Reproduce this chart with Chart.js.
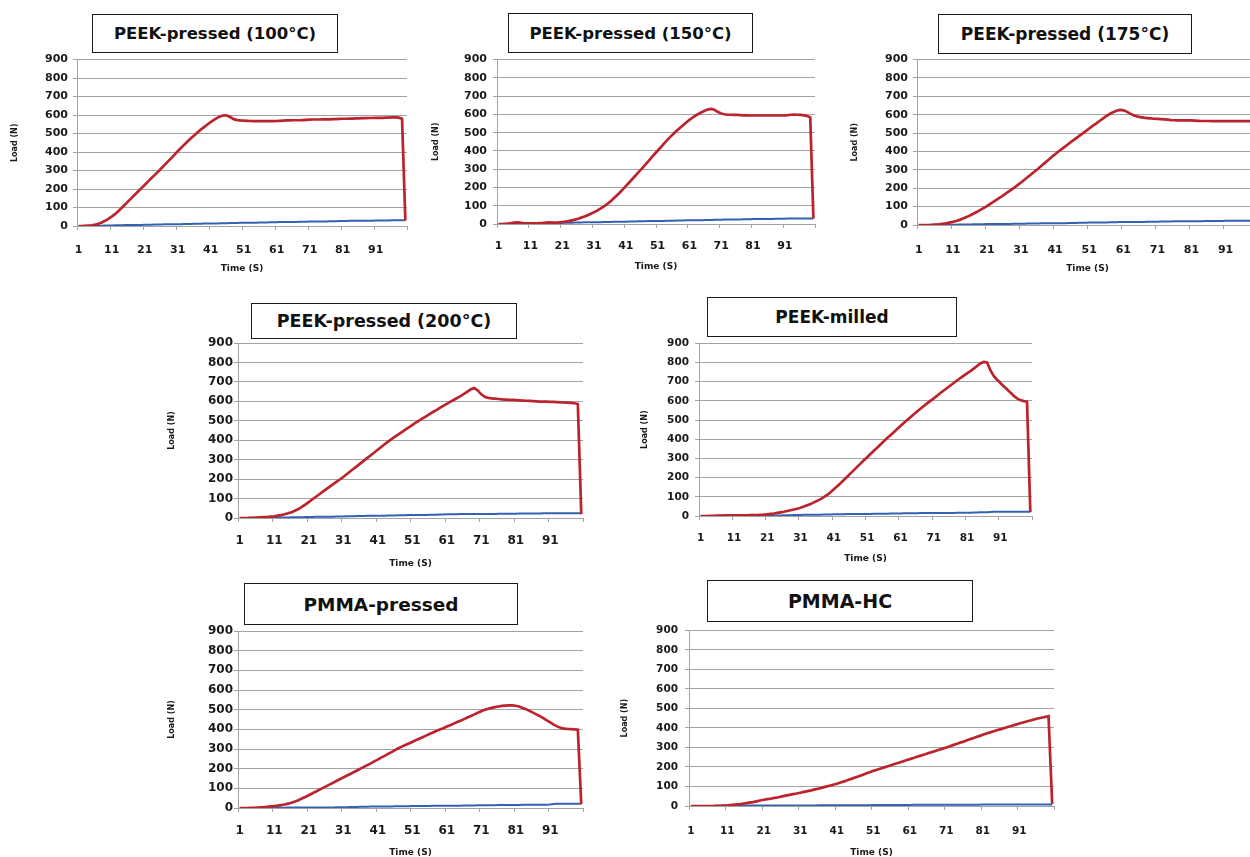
<!DOCTYPE html>
<html><head><meta charset="utf-8">
<script src="https://cdn.jsdelivr.net/npm/chart.js@4.4.1/dist/chart.umd.min.js"></script>
<style>
html,body{margin:0;padding:0;background:#fff;}
#stage{position:relative;width:1250px;height:857px;overflow:hidden;background:#fff;}
#stage canvas{position:absolute;}
.tbox{position:absolute;box-sizing:border-box;border:1.5px solid #1a1a1a;background:#fff;display:flex;align-items:center;justify-content:center;font-family:'DejaVu Sans',sans-serif;font-weight:bold;color:#111;white-space:nowrap;z-index:2;}
</style></head><body><div id="stage"></div>
<script>
// ---- data ----
const times = [1,2,3,4,5,6,7,8,9,10,11,12,13,14,15,16,17,18,19,20,21,22,23,24,25,26,27,28,29,30,31,32,33,34,35,36,37,38,39,40,41,42,43,44,45,46,47,48,49,50,51,52,53,54,55,56,57,58,59,60,61,62,63,64,65,66,67,68,69,70,71,72,73,74,75,76,77,78,79,80,81,82,83,84,85,86,87,88,89,90,91,92,93,94,95,96,97,98,99,100];
const tickLabels = [1,11,21,31,41,51,61,71,81,91];
const panelTitles = ['PEEK-pressed (100°C)','PEEK-pressed (150°C)','PEEK-pressed (175°C)','PEEK-pressed (200°C)','PEEK-milled','PMMA-pressed','PMMA-HC'];
const yTitle = 'Load (N)';
const xTitle = 'Time (S)';

const red100 = [0,0,1,2,4,7,12,19,28,39,
51,64,80,97,115,133,151,169,187,205,
222,240,258,275,293,311,329,348,366,385,
404,422,440,457,474,490,506,521,535,549,
562,574,585,594,599,597,588,578,573,571,
570,569,568,567,567,567,567,567,567,567,
568,569,570,571,571,572,572,572,573,574,
575,576,576,576,577,577,577,578,578,579,
580,580,581,581,582,582,583,583,584,584,
585,585,585,586,586,587,588,586,580,30];
const blue100 = [0,0,1,1,1,2,2,2,3,3,
3,4,4,4,5,5,5,6,6,6,
7,7,7,8,8,8,9,9,9,10,
10,10,11,11,11,12,12,12,13,13,
14,14,14,15,15,15,16,16,16,17,
17,17,18,18,18,19,19,19,20,20,
20,21,21,21,22,22,22,23,23,23,
24,24,24,25,25,25,26,26,26,27,
27,27,28,28,28,28,29,29,29,29,
30,30,30,30,30,31,31,31,31,31];

const red150 = [0,0,1,2,5,8,9,7,4,3,
3,3,4,5,6,8,9,8,8,9,
11,13,16,20,24,29,35,41,48,56,
64,73,84,95,107,121,137,153,170,188,
207,226,245,264,284,302,322,342,362,382,
401,420,440,459,477,494,510,526,541,556,
570,583,594,604,613,621,628,630,624,613,
605,601,599,598,597,597,596,595,595,594,
594,594,594,594,594,594,594,594,594,594,
595,596,598,599,598,597,595,591,584,30];
const blue150 = [0,0,0,1,1,1,2,2,2,3,
3,3,4,4,4,5,5,5,6,6,
6,7,7,7,8,8,8,9,9,9,
10,10,10,11,11,11,12,12,13,13,
13,14,14,14,15,15,15,16,16,16,
17,17,17,18,18,18,19,19,19,20,
20,20,21,21,21,22,22,22,23,23,
23,24,24,24,25,25,25,26,26,26,
27,27,27,27,28,28,28,29,29,29,
29,30,30,30,30,30,30,30,30,30];

const red175 = [0,0,0,0,1,2,3,6,9,13,
17,22,28,35,43,52,61,71,81,92,
103,115,127,139,151,164,177,190,203,217,
231,246,261,276,291,306,322,338,354,370,
385,400,414,428,442,456,470,484,497,511,
525,539,552,566,579,592,604,614,622,626,
624,617,606,597,591,587,584,582,580,578,
577,576,575,573,571,570,569,569,569,569,
569,568,567,566,566,566,565,565,565,565,
565,565,565,565,565,565,565,565,565,20];
const blue175 = [0,0,0,0,1,1,1,1,2,2,
2,2,3,3,3,3,4,4,4,4,
5,5,5,5,6,6,6,6,7,7,
7,7,8,8,8,8,9,9,9,9,
10,10,10,10,11,11,11,12,12,12,
13,13,13,14,14,14,15,15,15,16,
16,16,16,17,17,17,17,18,18,18,
18,19,19,19,19,20,20,20,20,21,
21,21,21,21,22,22,22,22,22,22,
23,23,23,23,23,23,23,23,23,23];

const red200 = [0,0,0,1,1,2,3,4,5,7,
9,12,15,19,24,30,37,46,57,69,
82,95,108,121,134,147,160,173,186,198,
211,225,239,253,267,281,295,309,323,337,
351,365,379,393,406,418,430,442,454,466,
478,490,501,512,523,534,545,555,566,577,
587,597,607,617,627,638,650,662,668,656,
636,624,618,615,614,612,610,609,608,607,
606,605,604,603,602,601,600,599,599,598,
597,597,596,595,594,593,592,590,586,20];
const blue200 = [0,0,0,1,1,1,1,2,2,2,
2,3,3,3,3,4,4,4,4,5,
5,5,6,6,6,7,7,7,8,8,
8,9,9,9,10,10,10,11,11,11,
12,12,12,13,13,13,14,14,14,15,
15,15,16,16,16,17,17,17,18,18,
19,19,19,19,20,20,20,20,20,21,
21,21,21,21,21,22,22,22,22,22,
22,23,23,23,23,23,23,23,24,24,
24,24,24,24,24,24,24,24,24,24];

const redMilled = [0,0,0,1,1,2,2,2,3,3,
3,3,4,4,4,5,5,5,6,7,
9,11,13,16,19,22,26,30,34,38,
43,49,56,63,71,79,88,98,110,124,
139,155,171,188,205,222,239,256,273,290,
306,323,340,356,373,390,406,421,437,453,
469,485,500,515,530,545,559,573,587,600,
613,627,641,654,667,680,693,706,719,731,
743,755,768,782,795,803,800,760,730,710,
693,676,660,643,627,613,604,599,596,20];
const blueMilled = [0,0,0,0,0,1,1,1,1,1,
1,1,2,2,2,2,2,2,3,3,
3,3,3,3,3,4,4,4,5,5,
5,6,6,6,7,7,7,8,8,8,
9,9,9,9,10,10,10,10,11,11,
11,11,12,12,12,12,12,13,13,13,
13,14,14,14,14,14,15,15,15,15,
15,16,16,16,16,16,16,17,17,17,
17,17,18,18,19,19,20,21,22,22,
22,22,22,22,22,22,22,22,22,22];

const redPmmaPressed = [0,0,0,1,1,2,3,4,6,8,
10,12,15,18,22,27,33,40,48,56,
65,74,83,92,101,110,119,128,137,146,
155,164,173,182,191,200,209,218,227,237,
246,256,265,275,284,294,304,312,320,328,
336,344,352,360,368,376,384,392,399,406,
414,421,429,437,444,452,460,468,476,484,
492,499,505,509,513,516,519,521,522,522,
520,516,509,502,494,485,476,467,457,446,
435,424,415,408,404,402,401,400,398,20];
const bluePmmaPressed = [0,0,0,0,0,0,1,1,1,1,
1,1,1,1,2,2,2,2,2,2,
2,2,2,2,3,3,3,3,4,4,
4,4,5,5,5,6,6,6,7,7,
8,8,8,8,8,9,9,9,9,9,
10,10,10,10,10,10,11,11,11,11,
11,11,11,11,12,13,13,13,13,14,
14,14,14,14,14,15,15,15,15,15,
15,15,16,16,16,16,16,16,17,17,
18,20,22,22,22,22,22,22,22,22];

const redPmmaHC = [0,0,0,0,0,0,0,1,1,2,
3,5,7,9,11,14,17,20,24,28,
32,35,38,42,45,49,53,57,61,64,
68,72,76,80,85,89,94,99,104,109,
114,120,126,133,139,146,152,159,166,173,
180,186,192,198,204,210,216,222,228,234,
240,246,252,258,264,270,276,282,288,294,
300,306,313,319,326,332,339,345,352,358,
365,371,377,383,389,394,400,406,411,417,
423,428,433,438,443,448,452,456,460,10];
const bluePmmaHC = [0,0,0,0,0,0,0,1,1,1,
1,1,1,2,2,2,2,2,2,2,
2,2,3,3,3,3,3,3,3,3,
3,3,3,3,3,4,4,4,4,4,
4,4,4,4,4,4,4,4,4,4,
5,5,5,5,5,5,5,5,5,5,
5,6,6,6,6,6,6,7,7,7,
7,7,7,7,7,7,7,7,7,7,
8,8,8,8,8,8,8,8,8,8,
8,8,8,8,8,8,8,8,8,8];

const redSeries = [red100, red150, red175, red200, redMilled, redPmmaPressed, redPmmaHC];
const blueSeries = [blue100, blue150, blue175, blue200, blueMilled, bluePmmaPressed, bluePmmaHC];

// ---- layout (pixel geometry of each panel) ----
const layouts = [
 {L:77, T:58, B:226,R:407, loadX:15, timeY:267,labY:247,yGap:9, tf:11,  box:[92,14,246,39], bf:16.5},
 {L:497,T:57, B:224,R:815, loadX:436,timeY:265,labY:243,yGap:10,tf:11,  box:[508,13,245,40],bf:16.5},
 {L:917,T:58, B:225,R:1258,loadX:855,timeY:267,labY:247,yGap:9, tf:11,  box:[938,14,254,40],bf:17},
 {L:238,T:343,B:518,R:583, loadX:172,timeY:562,labY:538,yGap:5, tf:12,  box:[251,303,266,36],bf:17.5},
 {L:699,T:341,B:516,R:1032,loadX:645,timeY:557,labY:535,yGap:10,tf:10.5,box:[707,297,250,40],bf:17},
 {L:238,T:631,B:808,R:583, loadX:172,timeY:851,labY:828,yGap:5, tf:12,  box:[244,583,274,42],bf:18.5},
 {L:689,T:627,B:806,R:1054,loadX:625,timeY:851,labY:828,yGap:11,tf:10.5,box:[707,580,266,42],bf:19}
];

const RED = '#bb242c', BLUE = '#3462b2', GRID = '#a3a3a3', TXT = '#1a1a1a', NONE = 'rgba(0,0,0,0)';
const Y_TITLE_FS = 8, X_TITLE_FS = 9, PAD_TOP = 10, TICK = 4;

Chart.defaults.font.family = "'DejaVu Sans', sans-serif";
Chart.defaults.font.weight = 'bold';
Chart.defaults.color = TXT;

const stage = document.getElementById('stage');

layouts.forEach((g, i) => {
  const left = Math.round(g.loadX - Y_TITLE_FS * 0.6);
  const top = g.T - PAD_TOP;
  const yW = g.L - left;
  const xH = Math.round(g.timeY + X_TITLE_FS * 0.6 - g.B) + 2;
  const w = g.R - left + 2;
  const h = g.B - top + xH;
  const cv = document.createElement('canvas');
  cv.width = w; cv.height = h;
  cv.style.left = left + 'px'; cv.style.top = top + 'px';
  cv.style.width = w + 'px'; cv.style.height = h + 'px';
  stage.appendChild(cv);

  const box = document.createElement('div');
  box.className = 'tbox';
  box.style.left = g.box[0] + 'px'; box.style.top = g.box[1] + 'px';
  box.style.width = g.box[2] + 'px'; box.style.height = g.box[3] + 'px';
  box.style.fontSize = g.bf + 'px';
  box.textContent = panelTitles[i];
  stage.appendChild(box);

  new Chart(cv, {
    type: 'line',
    data: {
      labels: times,
      datasets: [
        {data: redSeries[i], borderColor: RED, borderWidth: 2.7, pointRadius: 0, tension: 0, order: 1},
        {data: blueSeries[i], borderColor: BLUE, borderWidth: 2, pointRadius: 0, tension: 0, order: 2}
      ]
    },
    options: {
      responsive: false, animation: false, devicePixelRatio: 1,
      layout: {padding: {top: PAD_TOP, right: 2, left: 0, bottom: 0}},
      plugins: {legend: {display: false}, tooltip: {enabled: false}},
      scales: {
        x: {
          type: 'category', offset: true,
          grid: {
            display: true, drawOnChartArea: false, drawTicks: true, tickLength: TICK, offset: true,
            color: GRID, tickWidth: 1,
            tickColor: function(c) { return (c.type !== 'tick' || c.index % 10 === 0) ? GRID : NONE; }
          },
          border: {display: true, color: GRID, width: 1},
          ticks: {
            autoSkip: false, maxRotation: 0, minRotation: 0,
            padding: g.labY - g.B - TICK - g.tf * 0.6 + 3,
            font: {size: g.tf, weight: 'bold'}, color: TXT,
            callback: function(v, idx) { const t = times[idx]; return tickLabels.includes(t) ? String(t) : ''; }
          },
          title: {display: true, text: xTitle, font: {size: X_TITLE_FS, weight: 'bold'}, color: TXT, padding: {top: 0, bottom: 0}},
          afterFit: function(s) { s.height = xH; s.paddingLeft = 0; s.paddingRight = 0; }
        },
        y: {
          min: 0, max: 900,
          grid: {color: GRID, lineWidth: 1, drawTicks: true, tickLength: TICK, tickColor: GRID},
          border: {display: true, color: GRID, width: 1},
          ticks: {stepSize: 100, padding: Math.max(g.yGap - TICK, 1), font: {size: g.tf, weight: 'bold'}, color: TXT},
          title: {display: true, text: yTitle, font: {size: Y_TITLE_FS, weight: 'bold'}, color: TXT, padding: {top: 0, bottom: 0}},
          afterFit: function(s) { s.width = yW; }
        }
      }
    }
  });
});
</script>
</body></html>
